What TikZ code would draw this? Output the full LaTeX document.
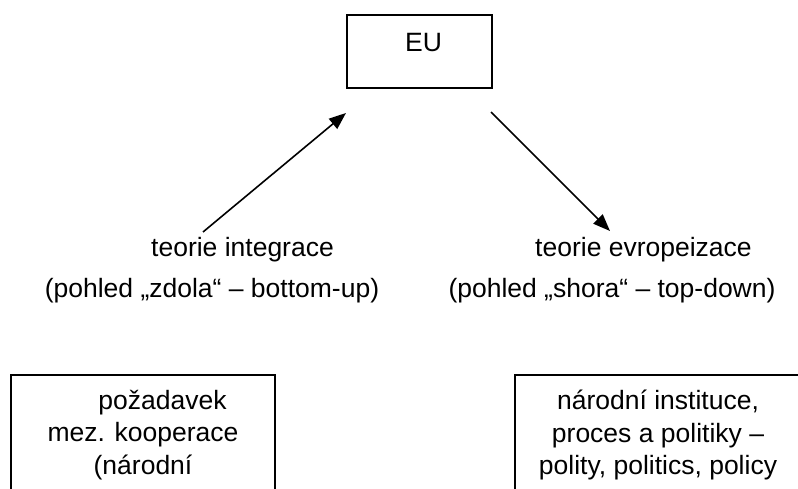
\documentclass[tikz,border=0pt]{standalone}
\usepackage{fontspec}
\setmainfont{Liberation Sans}
\usetikzlibrary{arrows.meta}
\begin{document}
\begin{tikzpicture}[x=1pt,y=-1pt,
  every node/.style={font=\fontsize{26.5}{32.3}\selectfont, inner sep=0pt},
  frame/.style={draw, line width=2pt},
  lbl/.style={anchor=base},
  arr/.style={line width=1.6pt, -{Triangle[length=17pt,width=13pt]}}]
\useasboundingbox (0,0) rectangle (798,489);
\clip (0,0) rectangle (798,489);
\node[frame, anchor=north west, minimum width=145pt, text height=37pt, text depth=36pt] (eu) at (346,14) {\hspace*{8pt}EU};
\node[lbl] (ti) at (242.5,257) {teorie integrace};
\node[lbl] (tiv) at (212,297) {(pohled „zdola“ – bottom-up)};
\node[lbl] (te) at (643.5,257) {teorie evropeizace};
\node[lbl] (tev) at (612,297) {(pohled „shora“ – top-down)};
\coordinate (a1s) at (203,232);
\coordinate (a1e) at (346,113);
\coordinate (a2s) at (491,112);
\coordinate (a2e) at (610,231);
\draw[arr] (a1s) -- (a1e);
\draw[arr] (a2s) -- (a2e);
\node[frame, anchor=north west, minimum width=264pt, minimum height=120pt, align=center] (lb) at (10,374) {\hspace*{39pt}požadavek\\mez. kooperace\\(národní};
\node[frame, anchor=north west, minimum width=286pt, minimum height=120pt, align=center] (rb) at (514,374) {národní instituce,\\proces a politiky –\\polity, politics, policy};
\end{tikzpicture}
\end{document}
